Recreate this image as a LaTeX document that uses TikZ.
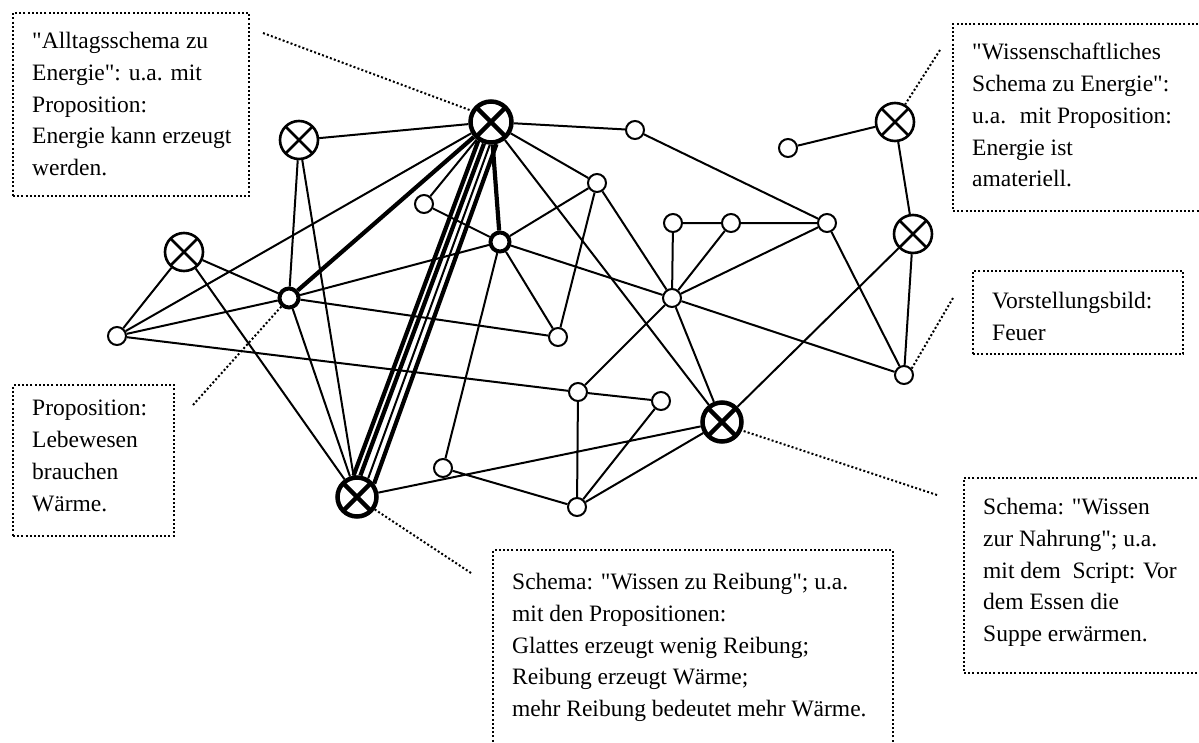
\documentclass[tikz,border=0pt]{standalone}
\usepackage{fontspec}
\setmainfont{Liberation Serif}[Ligatures=TeXOff]
\usetikzlibrary{calc}
\begin{document}
\begin{tikzpicture}[x=1pt,y=-1pt,
  conn/.style={line width=2pt},
  thickconn/.style={line width=4.2pt},
  sm/.style={circle,draw,line width=2pt,minimum size=18pt,inner sep=0pt,fill=white},
  smthick/.style={circle,draw,line width=4pt,minimum size=19pt,inner sep=0pt,fill=white},
  xcirc/.style={circle,draw,line width=#1,inner sep=0pt,fill=white,
    path picture={\draw[line width=#1] (path picture bounding box.north west)--(path picture bounding box.south east) (path picture bounding box.north east)--(path picture bounding box.south west);}},
  xthin/.style={xcirc=2.6pt,minimum size=38pt},
  xthick/.style={xcirc=4.5pt,minimum size=39pt},
  callout/.style={line width=2pt,dash pattern=on 2pt off 2.2pt},
  boxframe/.style={draw,line width=2pt,dash pattern=on 2pt off 2.2pt,inner sep=0pt,anchor=north west},
  txt/.style={inner sep=0pt,anchor=north west,align=left,font=\fontsize{23.5}{31.8}\selectfont}
]
\useasboundingbox (0,0) rectangle (1199,742);
\clip (0,0) rectangle (1199,742);

% text boxes
\node[boxframe,minimum width=236pt,minimum height=183pt] (b1) at (12,12) {};
\node[boxframe,minimum width=260pt,minimum height=187pt] (b2) at (952,23) {};
\node[boxframe,minimum width=161pt,minimum height=151pt] (b3) at (12,384) {};
\node[boxframe,minimum width=210pt,minimum height=83pt] (b4) at (972,270) {};
\node[boxframe,minimum width=400pt,minimum height=220pt] (b5) at (492,549) {};
\node[boxframe,minimum width=250pt,minimum height=195pt] (b6) at (963,477) {};

\node[txt] (t1) at (32,32) {"Alltagsschema zu\\Energie": u.a. mit\\Proposition:\\Energie kann erzeugt\\werden.};
\node[txt] (t2) at (972,43) {"Wissenschaftliches\\Schema zu Energie":\\u.a.~ mit Proposition:\\Energie ist\\amateriell.};
\node[txt] (t3) at (32,400) {Proposition:\\Lebewesen\\brauchen\\Wärme.};
\node[txt] (t4) at (992,292) {Vorstellungsbild:\\Feuer};
\node[txt] (t5) at (512,573) {Schema: "Wissen zu Reibung"; u.a.\\mit den Propositionen:\\Glattes erzeugt wenig Reibung;\\Reibung erzeugt Wärme;\\mehr Reibung bedeutet mehr Wärme.};
\node[txt] (t6) at (983,498) {Schema: "Wissen\\zur Nahrung"; u.a.\\mit dem~ Script: Vor\\dem Essen die\\Suppe erwärmen.};

% network nodes
\node[xthick,minimum size=41pt] (A) at (491,122) {};
\node[xthick] (S) at (357,497) {};
\node[xthick] (N) at (722,422) {};
\node[xthin] (X1) at (299,140) {};
\node[xthin] (X2) at (184,252) {};
\node[xthin] (X3) at (895,122) {};
\node[xthin] (X4) at (913,234) {};
\node[smthick] (P) at (289,298) {};
\node[smthick] (Q) at (500,242) {};
\node[sm] (c1) at (117,336) {};
\node[sm] (c2) at (424,204) {};
\node[sm] (c3) at (635,130) {};
\node[sm] (c4) at (597,183) {};
\node[sm] (c5) at (788,148) {};
\node[sm] (c6) at (558,337) {};
\node[sm] (c7) at (673,223) {};
\node[sm] (c8) at (731,223) {};
\node[sm] (c9) at (827,223) {};
\node[sm] (c10) at (672,298) {};
\node[sm] (c11) at (904,375) {};
\node[sm] (c12) at (578,392) {};
\node[sm] (c13) at (661,401) {};
\node[sm] (c14) at (443,468) {};
\node[sm] (c15) at (577,507) {};

% connectors
\draw[conn] (A)--(X1) (A)--(c3) (A)--(c4) (A)--(c2) (A)--(c1) (A)--(N);
\draw[thickconn] (A)--(P) (A)--(Q);
\draw[thickconn] (A.236)--(S.99);
\draw[thickconn] (A.252)--(S.81);
\draw[conn] (A.267)--(S.59);
\draw[thickconn] (A.284)--(S.38);
\draw[conn] (X1)--(P) (X1)--(S);
\draw[conn] (X2)--(c1) (X2)--(P) (X2)--(S);
\draw[conn] (c1)--(P) (c1)--(c12);
\draw[conn] (P)--(Q) (P)--(c6) (P)--(S);
\draw[conn] (Q)--(c2) (Q)--(c4) (Q)--(c6) (Q)--(c10) (Q)--(c14);
\draw[conn] (c4)--(c6) (c4)--(c10);
\draw[conn] (c3)--(c9);
\draw[conn] (c5)--(X3);
\draw[conn] (c7)--(c8) (c7)--(c10) (c8)--(c9) (c8)--(c10) (c9)--(c10) (c9)--(c11);
\draw[conn] (c10)--(c11) (c10)--(c12) (c10)--(N);
\draw[conn] (X3)--(X4) (X4)--(c11) (X4)--(N);
\draw[conn] (c12)--(c13) (c12)--(c15) (c13)--(c15) (c14)--(c15) (c15)--(N) (S)--(N);

% callout lines
\coordinate (k1) at (263,33);
\coordinate (k2) at (940,50);
\coordinate (k3) at (953,298);
\coordinate (k4) at (193,405);
\coordinate (k5) at (471,573);
\coordinate (k6) at (937,495);
\draw[callout] (k1)--(A.150);
\draw[callout] (k2)--(X3.60);
\draw[callout] (k3)--(c11.40);
\draw[callout] (k4)--(P.228);
\draw[callout] (k5)--(S.325);
\draw[callout] (k6)--(N.337);
\end{tikzpicture}
\end{document}
